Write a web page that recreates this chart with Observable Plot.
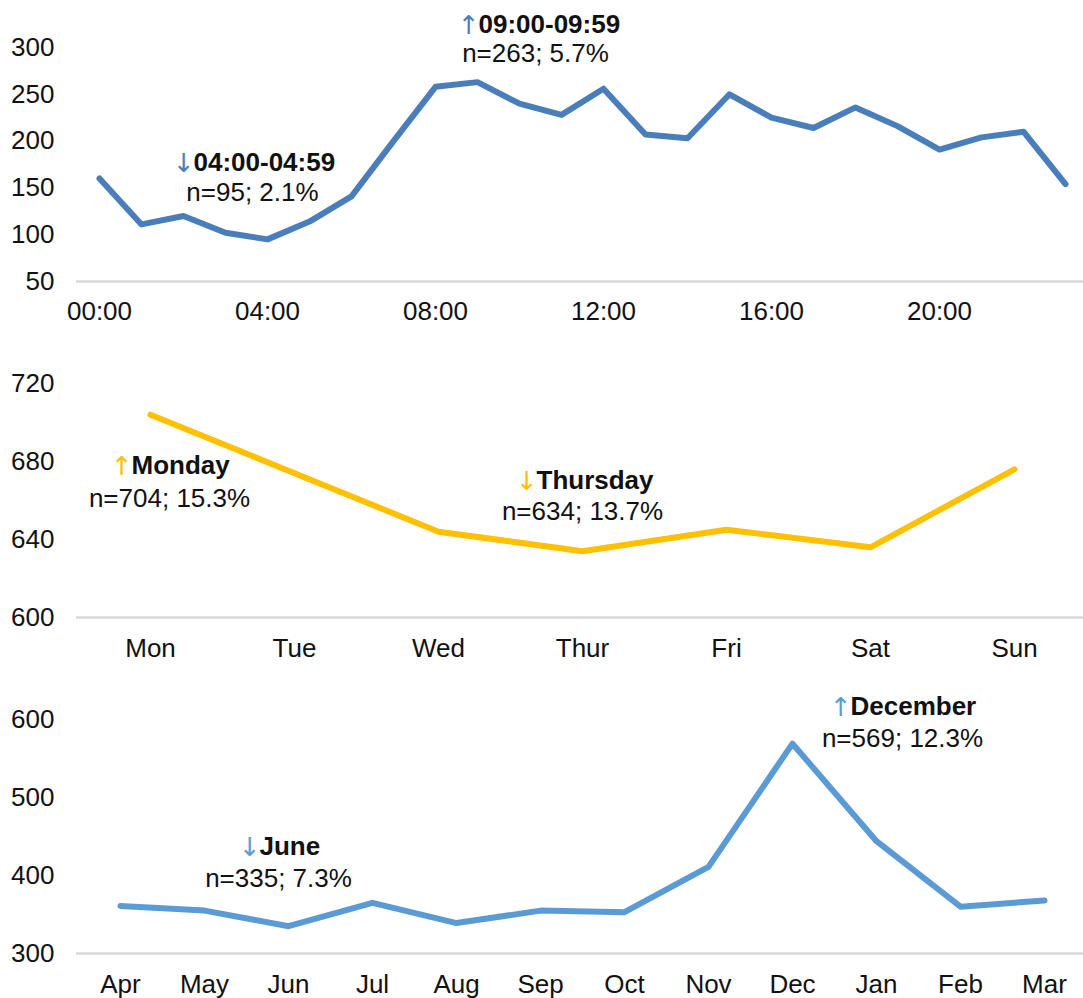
<!DOCTYPE html>
<html>
<head>
<meta charset="utf-8">
<script src="https://cdn.jsdelivr.net/npm/d3@7"></script>
<script src="https://cdn.jsdelivr.net/npm/@observablehq/plot@0.6"></script>
<style>
  html, body { margin: 0; padding: 0; background: #fff; overflow: hidden; }
  #chart { width: 1087px; }
  #chart svg { display: block; max-width: none !important; }
</style>
</head>
<body>
<div id="chart"></div>
<script>
// ---------- data ----------
const hours = ["00:00","01:00","02:00","03:00","04:00","05:00","06:00","07:00","08:00","09:00","10:00","11:00",
               "12:00","13:00","14:00","15:00","16:00","17:00","18:00","19:00","20:00","21:00","22:00","23:00"];
const hourCounts = [160,111,120,102,95,114,141,200,258,263,240,228,256,207,203,250,225,214,236,216,191,204,210,154];
const hourTicks = ["00:00","04:00","08:00","12:00","16:00","20:00"];
const hourYTicks = [50,100,150,200,250,300];

const days = ["Mon","Tue","Wed","Thur","Fri","Sat","Sun"];
const dayCounts = [704,674,644,634,645,636,676];
const dayYTicks = [600,640,680,720];

const months = ["Apr","May","Jun","Jul","Aug","Sep","Oct","Nov","Dec","Jan","Feb","Mar"];
const monthCounts = [361,355,335,365,339,355,353,411,569,444,360,368];
const monthYTicks = [300,400,500,600];

const hourNotes = [
  {at: "04:00", arrow: "↓", title: "04:00-04:59", detail: "n=95; 2.1%"},
  {at: "09:00", arrow: "↑", title: "09:00-09:59", detail: "n=263; 5.7%"}
];
const dayNotes = [
  {at: "Mon", arrow: "↑", title: "Monday", detail: "n=704; 15.3%"},
  {at: "Thur", arrow: "↓", title: "Thursday", detail: "n=634; 13.7%"}
];
const monthNotes = [
  {at: "Jun", arrow: "↓", title: "June", detail: "n=335; 7.3%"},
  {at: "Dec", arrow: "↑", title: "December", detail: "n=569; 12.3%"}
];

// ---------- layout (pixel offsets of note text relative to its point) ----------
const hourNoteLayout = [
  {sx: -74, ty: -68, dxx: -15, dyy: -38},
  {sx: 1, ty: -49, dxx: 58, dyy: -20}
];
const dayNoteLayout = [
  {sx: -19, ty: 59, dxx: 19, dyy: 92},
  {sx: -46, ty: -62, dxx: 0, dyy: -31}
];
const monthNoteLayout = [
  {sx: -29, ty: -71, dxx: -10, dyy: -39},
  {sx: 58, ty: -29, dxx: 110, dyy: 3}
];

const FONT = "'Liberation Sans', Arial, Helvetica, sans-serif";
const ARROW_FONT = "'DejaVu Sans', sans-serif";
const FS = 26;
const W = 1087;

function notesMarks(notes, layout, cats, vals, color) {
  const marks = [];
  notes.forEach((n, i) => {
    const L = layout[i];
    const d = [{x: n.at, y: vals[cats.indexOf(n.at)], ...n}];
    marks.push(Plot.text(d, {x: "x", y: "y", text: "arrow", fill: color, textAnchor: "end",
      lineAnchor: "bottom", dx: L.sx + 1, dy: L.ty + 1, fontSize: 26, fontFamily: ARROW_FONT}));
    marks.push(Plot.text(d, {x: "x", y: "y", text: "title", fill: "#111", fontWeight: "bold", textAnchor: "start",
      lineAnchor: "bottom", dx: L.sx, dy: L.ty, fontSize: FS, fontFamily: FONT}));
    marks.push(Plot.text(d, {x: "x", y: "y", text: "detail", fill: "#111", textAnchor: "middle",
      lineAnchor: "bottom", dx: L.dxx, dy: L.dyy, fontSize: FS, fontFamily: FONT}));
  });
  return marks;
}

function panel({cats, vals, xTicks, yTicks, color, notes, layout, height, mt, mb, xpad}) {
  const data = cats.map((c, i) => ({c, v: vals[i]}));
  return Plot.plot({
    width: W,
    height,
    marginLeft: 76,
    marginRight: 0,
    marginTop: mt,
    marginBottom: mb,
    style: {fontSize: FS + "px", fontFamily: FONT, color: "#111", background: "#fff", overflow: "visible", maxWidth: "none"},
    x: {type: "point", domain: cats, padding: 0.5},
    y: {domain: [yTicks[0], yTicks[yTicks.length - 1]]},
    marks: [
      Plot.ruleY([yTicks[0]], {stroke: "#d9d9d9", strokeWidth: 2.5}),
      Plot.axisY({ticks: yTicks, tickSize: 0, tickPadding: 22, label: null, fontSize: FS, fill: "#111"}),
      Plot.axisX({ticks: xTicks, tickSize: 0, tickPadding: xpad, label: null, fontSize: FS, fill: "#111"}),
      Plot.line(data, {x: "c", y: "v", stroke: color, strokeWidth: 6, strokeLinecap: "round", strokeLinejoin: "round"}),
      ...notesMarks(notes, layout, cats, vals, color)
    ]
  });
}

const chart = document.getElementById("chart");
chart.append(panel({cats: hours, vals: hourCounts, xTicks: hourTicks, yTicks: hourYTicks, color: "#4A7EBB",
  notes: hourNotes, layout: hourNoteLayout, height: 340, mt: 47, mb: 59, xpad: 20}));
chart.append(panel({cats: days, vals: dayCounts, xTicks: days, yTicks: dayYTicks, color: "#FFC000",
  notes: dayNotes, layout: dayNoteLayout, height: 340, mt: 43, mb: 63, xpad: 21}));
chart.append(panel({cats: months, vals: monthCounts, xTicks: months, yTicks: monthYTicks, color: "#5B9BD5",
  notes: monthNotes, layout: monthNoteLayout, height: 318, mt: 39, mb: 45, xpad: 21}));
</script>
</body>
</html>
